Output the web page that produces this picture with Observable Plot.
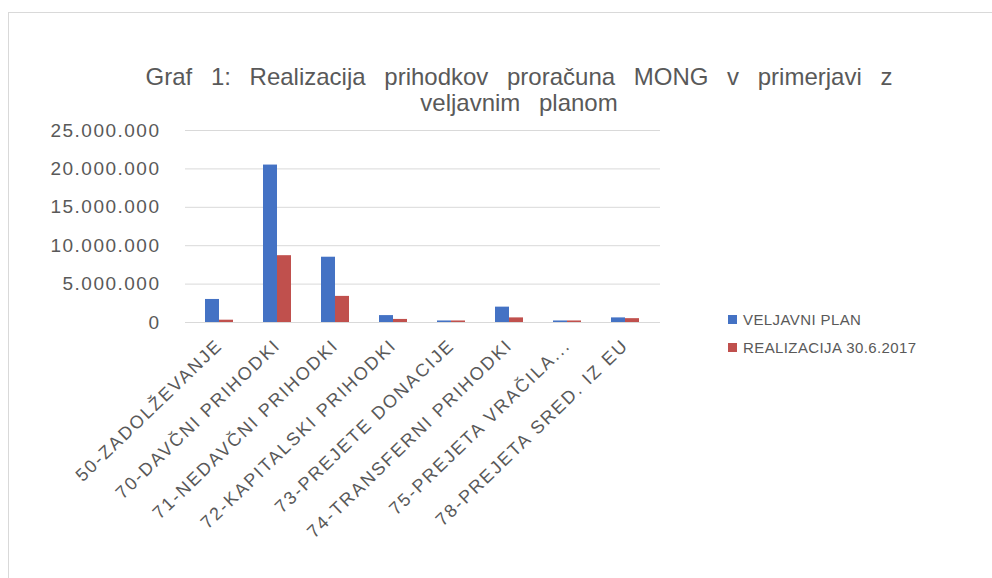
<!DOCTYPE html>
<html>
<head>
<meta charset="utf-8">
<script src="https://cdn.jsdelivr.net/npm/d3@7"></script>
<script src="https://cdn.jsdelivr.net/npm/@observablehq/plot@0.6"></script>
<style>
  body { margin: 0; background: #fff; font-family: "Liberation Sans", Arial, sans-serif; }
  #wrap { position: relative; width: 992px; height: 578px; overflow: hidden; }
  #frame { position: absolute; left: 8px; top: 12px; width: 990px; height: 570px; border: 1px solid #d9d9d9; box-sizing: border-box; }
  #title { position: absolute; left: 0; width: 1038px; top: 64px; text-align: center; font-size: 24px; line-height: 26px; color: #595959; word-spacing: 12px; }
  #chart { position: absolute; left: 0; top: 115px; }
  #chart g[aria-label="y-axis tick label"] text { letter-spacing: 1.5px; }
  #chart g[aria-label="x-axis tick label"] text { letter-spacing: 2px; }
  #legend { position: absolute; left: 728px; top: 305px; font-size: 15px; color: #595959; letter-spacing: 0.4px; }
  #legend div { display: flex; align-items: center; height: 28px; }
  #legend span.sw { display: inline-block; width: 9px; height: 9px; margin-right: 6px; }
</style>
</head>
<body>
<div id="wrap">
  <div id="frame"></div>
  <div id="title">Graf 1: Realizacija prihodkov proračuna MONG v primerjavi z<br>veljavnim planom</div>
  <div id="chart"></div>
  <div id="legend"></div>
</div>
<script>
const categories = ["50-ZADOLŽEVANJE", "70-DAVČNI PRIHODKI", "71-NEDAVČNI PRIHODKI", "72-KAPITALSKI PRIHODKI", "73-PREJETE DONACIJE", "74-TRANSFERNI PRIHODKI", "75-PREJETA VRAČILA...", "78-PREJETA SRED. IZ EU"];
const seriesNames = ["VELJAVNI PLAN", "REALIZACIJA 30.6.2017"];
const veljavniPlan = [3000000, 20500000, 8500000, 900000, 200000, 2000000, 200000, 600000];
const realizacija = [300000, 8700000, 3400000, 400000, 200000, 600000, 200000, 500000];
const colors = ["#4472c4", "#c0504d"];
const yTicks = [0, 5000000, 10000000, 15000000, 20000000, 25000000];

const planData = categories.map((c, i) => ({cat: c, series: seriesNames[0], value: veljavniPlan[i]}));
const realData = categories.map((c, i) => ({cat: c, series: seriesNames[1], value: realizacija[i]}));

const fmt = d => d3.format(",")(d).replace(/,/g, ".");

const chart = Plot.plot({
  width: 992,
  height: 463,
  marginLeft: 185,
  marginRight: 332,
  marginTop: 15,
  marginBottom: 256,
  style: {fontFamily: "Liberation Sans, Arial, sans-serif", color: "#595959", background: "transparent"},
  x: {domain: categories, padding: 0.1, label: null},
  y: {domain: [0, 25000000], ticks: yTicks, label: null},
  color: {domain: seriesNames, range: colors},
  marks: [
    Plot.gridY(yTicks, {stroke: "#d9d9d9", strokeOpacity: 1}),
    Plot.axisY(yTicks, {tickFormat: fmt, tickSize: 0, tickPadding: 25, fontSize: 19, label: null}),
    Plot.axisX({tickRotate: -44, tickSize: 0, tickPadding: 20, fontSize: 18, label: null}),
    Plot.barY(planData, {x: "cat", y: "value", fill: "series", insetLeft: 12, insetRight: 26}),
    Plot.barY(realData, {x: "cat", y: "value", fill: "series", insetLeft: 26, insetRight: 12})
  ]
});
document.getElementById("chart").appendChild(chart);

const legend = document.getElementById("legend");
seriesNames.forEach((s, i) => {
  const row = document.createElement("div");
  const sw = document.createElement("span");
  sw.className = "sw";
  sw.style.background = colors[i];
  row.appendChild(sw);
  row.appendChild(document.createTextNode(s));
  legend.appendChild(row);
});
</script>
</body>
</html>
